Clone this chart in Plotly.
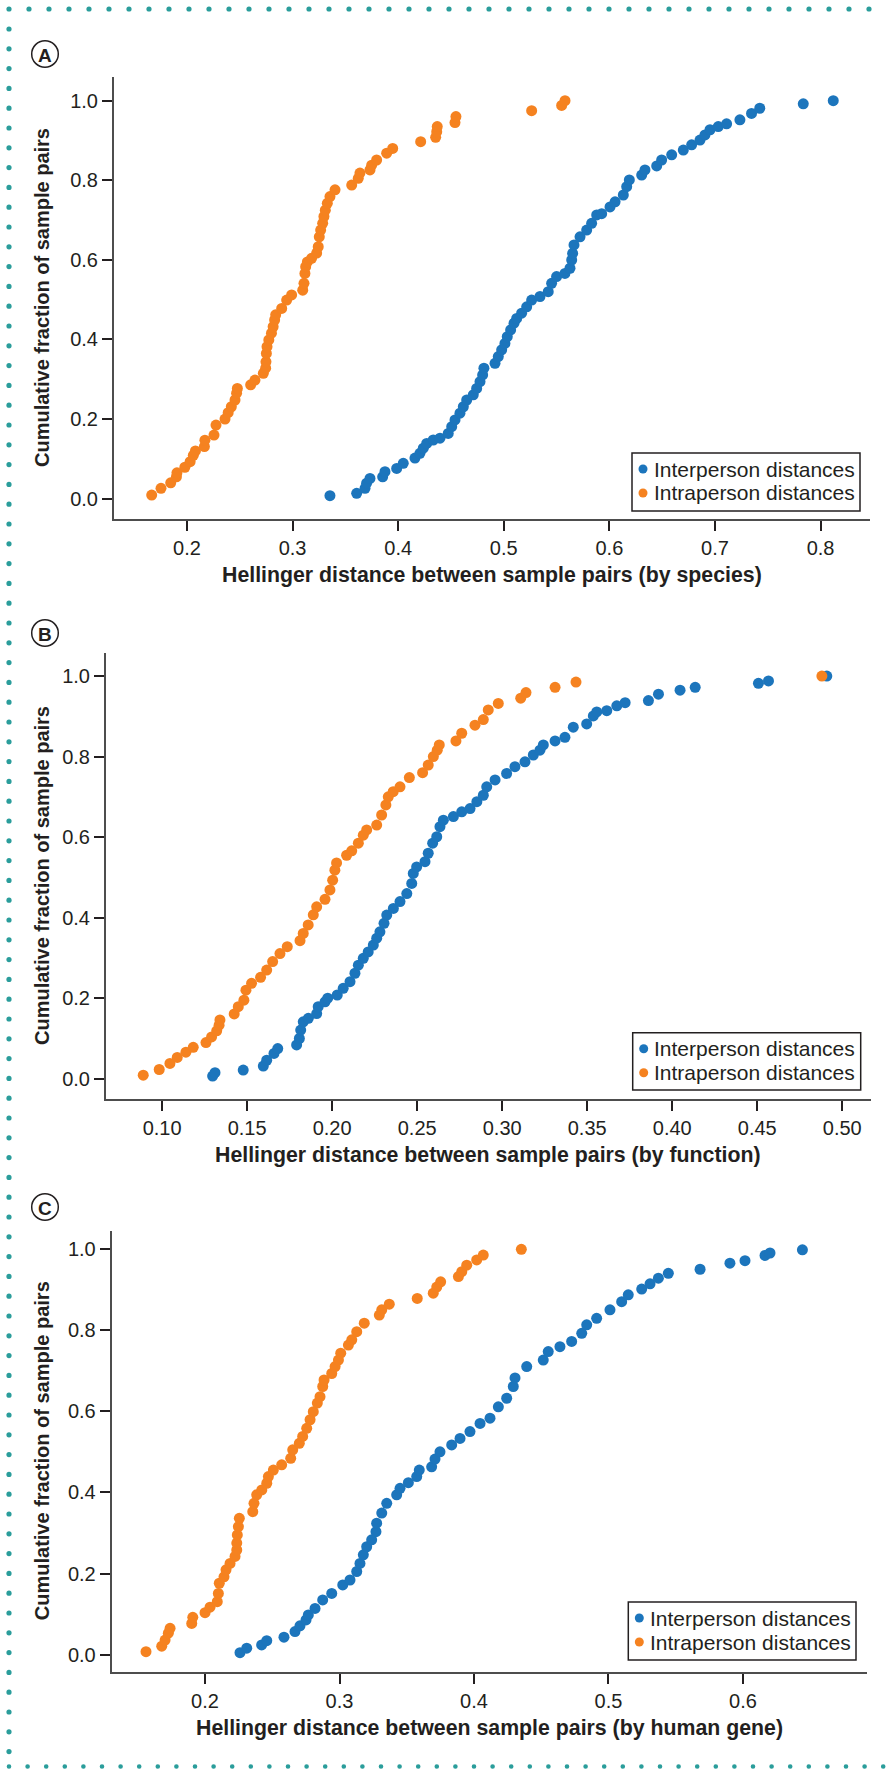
import plotly.graph_objects as go

# ---------------- data ----------------
# Panel A: by species
a_inter_x = [0.3354,0.3607,0.3686,0.3701,0.3733,0.3853,0.3875,0.3986,0.4048,0.4159,0.4206,0.4238,0.4270,0.4332,0.4396,
             0.4474,0.4507,0.4538,0.4585,0.4617,0.4649,0.4711,0.4743,0.4775,0.4800,0.4812,0.4917,0.4948,0.4980,0.5011,
             0.5033,0.5065,0.5097,0.5122,0.5169,0.5217,0.5264,0.5343,0.5421,0.5453,0.5500,0.5579,0.5627,0.5643,0.5652,
             0.5665,0.5722,0.5785,0.5832,0.5880,0.5927,0.6006,0.6054,0.6132,0.6164,0.6189,0.6306,0.6337,0.6448,0.6495,
             0.6590,0.6700,0.6779,0.6858,0.6905,0.6953,0.7031,0.7110,0.7236,0.7346,0.7424,0.7836,0.8120]
a_inter_y = [0.0075,0.0135,0.026,0.039,0.051,0.055,0.068,0.076,0.089,0.102,0.114,0.127,0.139,0.1475,0.152,
             0.164,0.181,0.198,0.215,0.231,0.248,0.261,0.277,0.294,0.311,0.328,0.340,0.357,0.374,0.390,
             0.407,0.424,0.441,0.453,0.466,0.482,0.499,0.508,0.520,0.541,0.558,0.566,0.579,0.5997,0.6166,
             0.6375,0.658,0.675,0.692,0.713,0.716,0.733,0.746,0.763,0.784,0.801,0.813,0.826,0.836,0.851,
             0.864,0.876,0.889,0.901,0.914,0.927,0.935,0.942,0.952,0.968,0.981,0.992,1.0]
a_intra_x = [0.1666,0.1754,0.1846,0.1900,0.1905,0.1980,0.2030,0.2060,0.2080,0.2165,0.2170,0.2256,0.2275,0.2360,0.2390,
             0.2420,0.2455,0.2470,0.2477,0.2603,0.2644,0.2723,0.2745,0.2748,0.2752,0.2758,0.2775,0.2800,0.2816,0.2830,
             0.2840,0.2897,0.2944,0.2991,0.3096,0.3108,0.3117,0.3124,0.3140,0.3180,0.3228,0.3243,0.3253,0.3266,0.3285,
             0.3297,0.3310,0.3329,0.3354,0.3402,0.3560,0.3622,0.3638,0.3733,0.3749,0.3796,0.3891,0.3948,0.4213,0.4355,
             0.4365,0.4370,0.4538,0.4547,0.5264,0.5548,0.5580]
a_intra_y = [0.009,0.026,0.040,0.055,0.065,0.079,0.093,0.109,0.120,0.131,0.147,0.160,0.185,0.200,0.216,
             0.231,0.248,0.265,0.277,0.286,0.298,0.315,0.328,0.344,0.365,0.382,0.399,0.416,0.432,0.449,
             0.462,0.478,0.499,0.512,0.524,0.541,0.566,0.583,0.595,0.604,0.617,0.633,0.658,0.675,0.692,
             0.709,0.725,0.742,0.759,0.776,0.788,0.805,0.818,0.826,0.838,0.851,0.868,0.880,0.897,0.908,
             0.922,0.935,0.945,0.960,0.975,0.988,1.0]

# Panel B: by function
b_inter_x = [0.1297,0.1311,0.1477,0.1595,0.1615,0.1658,0.1680,0.1791,0.1807,0.1815,0.1830,0.1860,0.1909,0.1918,0.1958,
             0.1974,0.2030,0.2065,0.2105,0.2134,0.2154,0.2183,0.2212,0.2242,0.2262,0.2281,0.2305,0.2321,0.2360,0.2399,
             0.2439,0.2468,0.2477,0.2497,0.2546,0.2565,0.2591,0.2615,0.2634,0.2654,0.2713,0.2762,0.2811,0.2851,0.2889,
             0.2909,0.2958,0.3026,0.3075,0.3134,0.3183,0.3222,0.3242,0.3311,0.3369,0.3418,0.3497,0.3536,0.3556,0.3615,
             0.3674,0.3723,0.3860,0.3919,0.4046,0.4135,0.4507,0.4566,0.4909]
b_inter_y = [0.0067,0.015,0.0216,0.0315,0.046,0.063,0.075,0.084,0.100,0.121,0.1415,0.150,0.162,0.179,0.191,
             0.200,0.208,0.2245,0.241,0.262,0.282,0.299,0.315,0.332,0.349,0.365,0.386,0.4065,0.423,0.440,
             0.460,0.485,0.510,0.526,0.539,0.560,0.585,0.601,0.626,0.642,0.651,0.663,0.671,0.688,0.704,
             0.725,0.742,0.758,0.775,0.787,0.804,0.816,0.829,0.839,0.848,0.873,0.881,0.901,0.911,0.914,
             0.926,0.934,0.939,0.955,0.965,0.972,0.982,0.988,1.0]
b_intra_x = [0.0889,0.0983,0.1046,0.1089,0.1140,0.1183,0.1258,0.1291,0.1321,0.1335,0.1340,0.1424,0.1448,0.1481,0.1493,
             0.1526,0.1579,0.1615,0.1650,0.1693,0.1736,0.1811,0.1830,0.1859,0.1889,0.1909,0.1958,0.1987,0.2003,0.2016,
             0.2026,0.2085,0.2115,0.2154,0.2183,0.2203,0.2262,0.2291,0.2316,0.2330,0.2359,0.2399,0.2454,0.2532,0.2565,
             0.2595,0.2618,0.2630,0.2728,0.2762,0.2840,0.2889,0.2918,0.2977,0.3109,0.3140,0.3311,0.3434,0.4880]
b_intra_y = [0.009,0.023,0.038,0.053,0.066,0.078,0.090,0.104,0.119,0.133,0.146,0.161,0.179,0.195,0.220,
             0.237,0.252,0.270,0.291,0.311,0.328,0.343,0.361,0.382,0.407,0.427,0.4455,0.469,0.493,0.518,
             0.536,0.555,0.566,0.585,0.605,0.618,0.630,0.655,0.680,0.700,0.713,0.725,0.748,0.760,0.779,
             0.800,0.816,0.829,0.839,0.858,0.878,0.892,0.916,0.932,0.945,0.959,0.972,0.985,1.0]

# Panel C: by human gene
c_inter_x = [0.2260,0.2310,0.2421,0.2459,0.2587,0.2669,0.2706,0.2751,0.2768,0.2818,0.2875,0.2942,0.3024,0.3078,0.3128,
             0.3152,0.3177,0.3202,0.3239,0.3271,0.3276,0.3314,0.3351,0.3425,0.3450,0.3512,0.3574,0.3593,0.3685,0.3710,
             0.3747,0.3834,0.3896,0.3970,0.4045,0.4119,0.4181,0.4243,0.4292,0.4305,0.4392,0.4515,0.4552,0.4639,0.4726,
             0.4801,0.4838,0.4912,0.5011,0.5098,0.5147,0.5247,0.5309,0.5371,0.5445,0.5681,0.5903,0.6015,0.6164,0.6201,
             0.6442]
c_inter_y = [0.005,0.016,0.024,0.0345,0.043,0.057,0.071,0.0855,0.098,0.114,0.135,0.151,0.172,0.184,0.205,
             0.225,0.246,0.266,0.283,0.303,0.324,0.349,0.373,0.394,0.410,0.424,0.439,0.455,0.463,0.482,
             0.500,0.517,0.533,0.550,0.570,0.583,0.611,0.632,0.661,0.682,0.710,0.726,0.747,0.759,0.772,
             0.792,0.813,0.829,0.850,0.870,0.887,0.901,0.914,0.928,0.940,0.950,0.965,0.971,0.984,0.990,
             0.998]
c_intra_x = [0.1561,0.1678,0.1703,0.1727,0.1740,0.1901,0.1909,0.2000,0.2037,0.2091,0.2099,0.2106,0.2141,0.2156,0.2186,
             0.2223,0.2236,0.2236,0.2240,0.2248,0.2255,0.2355,0.2364,0.2384,0.2422,0.2459,0.2471,0.2508,0.2570,0.2637,
             0.2652,0.2701,0.2726,0.2756,0.2781,0.2805,0.2835,0.2855,0.2875,0.2885,0.2942,0.2967,0.2992,0.3009,0.3066,
             0.3091,0.3128,0.3184,0.3296,0.3314,0.3370,0.3578,0.3697,0.3723,0.3752,0.3884,0.3909,0.3946,0.4020,0.4069,
             0.4352]
c_intra_y = [0.0074,0.021,0.036,0.053,0.065,0.077,0.092,0.1035,0.117,0.1306,0.151,0.176,0.192,0.209,0.225,
             0.242,0.258,0.275,0.295,0.3155,0.336,0.3525,0.373,0.394,0.406,0.4225,0.439,0.455,0.468,0.484,
             0.505,0.521,0.538,0.558,0.579,0.599,0.620,0.636,0.661,0.677,0.693,0.710,0.726,0.743,0.763,
             0.776,0.796,0.817,0.837,0.850,0.864,0.878,0.891,0.906,0.919,0.932,0.944,0.960,0.973,0.985,
             0.999]

series_names = ["Interperson distances", "Intraperson distances"]
panel_letters = ["A", "B", "C"]
x_titles = ["Hellinger distance between sample pairs (by species)",
            "Hellinger distance between sample pairs (by function)",
            "Hellinger distance between sample pairs (by human gene)"]
y_title = "Cumulative fraction of sample pairs"

# ---------------- styling / layout ----------------
W, H = 887, 1769
FONT = "Liberation Sans, Arial, Helvetica, sans-serif"
TXT = "#231f20"
BLUE = "#1c75bc"
ORANGE = "#f58220"
TEAL = "#2a9d9b"
COLORS = [BLUE, ORANGE]

def px_x(p):
    return p / W

def px_y(p):
    return 1 - p / H

# panel geometry in pixels: (left, right, top, bottom), axis ranges, legend box (left, top, right, bottom)
panels = [
    dict(l=114, r=870, t=77, b=519, xr=[0.1309, 0.8468], yr=[-0.051, 1.0595], dt=0.1, fmt=".1f",
         leg=(632, 453, 860, 511), lab=(45, 54), data=(a_inter_x, a_inter_y, a_intra_x, a_intra_y)),
    dict(l=106, r=870.5, t=652.7, b=1099.3, xr=[0.067, 0.5166], yr=[-0.051, 1.058], dt=0.05, fmt=".2f",
         leg=(632.7, 1032.7, 860.7, 1090), lab=(45, 633), data=(b_inter_x, b_inter_y, b_intra_x, b_intra_y)),
    dict(l=111.7, r=866.7, t=1230.7, b=1671.7, xr=[0.1306, 0.692], yr=[-0.042, 1.045], dt=0.1, fmt=".1f",
         leg=(628.3, 1602, 856, 1660), lab=(45, 1207), data=(c_inter_x, c_inter_y, c_intra_x, c_intra_y)),
]

fig = go.Figure()
layout = dict(width=W, height=H, margin=dict(l=0, r=0, t=0, b=0),
              paper_bgcolor="white", plot_bgcolor="white",
              font=dict(family=FONT, color=TXT, size=20), showlegend=False)
annotations = []
shapes = []

for i, p in enumerate(panels):
    k = "" if i == 0 else str(i + 1)
    xa, ya = "x" + k, "y" + k
    ix, iy, jx, jy = p["data"]
    fig.add_trace(go.Scatter(x=ix, y=iy, mode="markers", name=series_names[0], xaxis=xa, yaxis=ya,
                             marker=dict(color=BLUE, size=11, line=dict(width=0))))
    fig.add_trace(go.Scatter(x=jx, y=jy, mode="markers", name=series_names[1], xaxis=xa, yaxis=ya,
                             marker=dict(color=ORANGE, size=11, line=dict(width=0))))
    axcommon = dict(showgrid=False, zeroline=False, showline=True, linecolor="#4d4d4d", linewidth=2,
                    ticks="outside", ticklen=10, tickwidth=2, tickcolor=TXT,
                    tickfont=dict(size=20, color=TXT, family=FONT))
    layout["xaxis" + k] = dict(axcommon, domain=[px_x(p["l"]), px_x(p["r"])], range=p["xr"],
                               dtick=p["dt"], tick0=0, tickformat=p["fmt"], anchor=ya)
    layout["yaxis" + k] = dict(axcommon, domain=[px_y(p["b"]), px_y(p["t"])], range=p["yr"],
                               dtick=0.2, tick0=0, tickformat=".1f", anchor=xa)
    # axis titles
    annotations.append(dict(text="<b>%s</b>" % x_titles[i], xref=xa + " domain", x=0.5, xanchor="center",
                            yref="paper", y=px_y(p["b"] + 56), yanchor="middle", showarrow=False,
                            font=dict(size=21.3, color=TXT, family=FONT)))
    annotations.append(dict(text="<b>%s</b>" % y_title, xref="paper", x=px_x(42), xanchor="center",
                            yref=ya + " domain", y=0.5, yanchor="middle", textangle=-90, showarrow=False,
                            font=dict(size=20, color=TXT, family=FONT)))
    # circled panel letter
    cx, cy = p["lab"]
    annotations.append(dict(text="<b>%s</b>" % panel_letters[i], xref="paper", yref="paper",
                            x=px_x(cx), y=px_y(cy + 1), xanchor="center", yanchor="middle", showarrow=False,
                            font=dict(size=19, color=TXT, family=FONT)))
    shapes.append(dict(type="circle", xref="paper", yref="paper", x0=px_x(cx - 13.3), x1=px_x(cx + 13.3),
                       y0=px_y(cy + 13.3), y1=px_y(cy - 13.3), line=dict(color=TXT, width=1.5)))
    # legend box (boxed key in the lower right of each panel)
    L, T, R, B = p["leg"]
    shapes.append(dict(type="rect", xref="paper", yref="paper", x0=px_x(L), x1=px_x(R),
                       y0=px_y(B), y1=px_y(T), line=dict(color=TXT, width=1.5), fillcolor="white"))
    for j, name in enumerate(series_names):
        ry = T + 16 + 24 * j
        shapes.append(dict(type="circle", xref="paper", yref="paper", x0=px_x(L + 11 - 4.5),
                           x1=px_x(L + 11 + 4.5), y0=px_y(ry + 4.5), y1=px_y(ry - 4.5),
                           fillcolor=COLORS[j], line=dict(width=0)))
        annotations.append(dict(text=name, xref="paper", yref="paper", x=px_x(L + 19.5), y=px_y(ry),
                                xanchor="left", yanchor="middle", showarrow=False,
                                font=dict(size=21, color=TXT, family=FONT)))

# decorative dotted teal border (top, left, bottom)
def dot(x, y, r=2.6):
    return dict(type="circle", xref="paper", yref="paper", x0=px_x(x - r), x1=px_x(x + r),
                y0=px_y(y + r), y1=px_y(y - r), fillcolor=TEAL, line=dict(width=0))

xx = 9.0
while xx < W:
    shapes.append(dot(xx, 9))
    xx += 20.0
yy = 29.0
while yy < H - 12:
    shapes.append(dot(9, yy))
    yy += 19.8
xx = 9.0
while xx < W:
    shapes.append(dot(xx, 1766.5, 2.3))
    xx += 18.6

layout["annotations"] = annotations
layout["shapes"] = shapes
fig.update_layout(**layout)
fig.write_html("out.html", config={"displayModeBar": False},
               post_script="document.body.style.margin='0px';document.body.style.overflow='hidden';")
